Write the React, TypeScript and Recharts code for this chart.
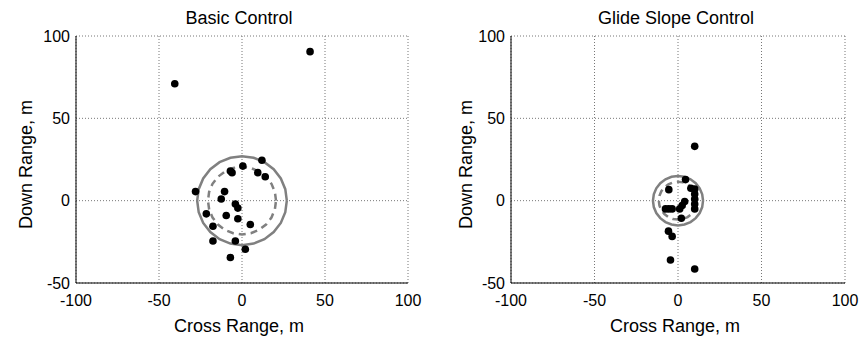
import { ScatterChart, Scatter, XAxis, YAxis, CartesianGrid, Label } from "recharts";

// impact points, metres
const basicCross = [-40.5, 41, 12, 0.5, -7, -6, 9.5, 14, -28, -10.5, -12.5, -4, -2.5, -21.5, -9.5, -2.5, 5, -17.5, -17.5, -4, 2, -7];
const basicDown = [71, 90.5, 24.5, 21, 18, 17, 17, 14.5, 5.5, 5.5, 1, -2, -4.5, -8, -9, -11, -14.5, -15.5, -24.5, -24.5, -29.5, -34.5];

const glideCross = [10, 4.5, -5.5, 7.7, 10, 10, 10, 10, 10, 4, 2.5, 1, -3.5, -5.5, -7.5, 2, -5.7, -3.5, -4.5, 10];
const glideDown = [33, 12.8, 6.7, 7.5, 7, 4, 1, -2, -5, -0.5, -3, -5, -5, -5, -5, -10.7, -18.5, -21.7, -36, -41.5];

// circle radii [solid, dashed]
const basicRadii = [27, 20.5];
const glideRadii = [15, 11.5];

const xTicks = [-100, -50, 0, 50, 100];
const yTicks = [-50, 0, 50, 100];

const FONT = "'Liberation Sans', Arial, sans-serif";
const GREY = "#808080";

const toPoints = (xs: number[], ys: number[]) => xs.map((x, i) => ({ x, y: ys[i] }));

// polygon outline of a circle centred on the origin
const ring = (r: number, n = 24) =>
  Array.from({ length: n + 1 }, (_, i) => {
    const a = (2 * Math.PI * i) / n;
    return { x: r * Math.cos(a), y: r * Math.sin(a) };
  });

const Dot = (p: any) => <circle cx={p.cx} cy={p.cy} r={3.8} fill="#000" />;
const NoShape = () => <g />;

interface PanelProps {
  points: { x: number; y: number }[];
  radii: number[];
  width: number;
  yAxisWidth: number;
  right: number;
  yLabelX: number;
}

function Panel({ points, radii, width, yAxisWidth, right, yLabelX }: PanelProps) {
  return (
    <ScatterChart
      width={width}
      height={339}
      margin={{ top: 36, right, bottom: 0, left: 0 }}
      style={{ fontFamily: FONT }}
    >
      <CartesianGrid stroke="#777" strokeDasharray="1 2" />
      <XAxis
        type="number"
        dataKey="x"
        domain={[-100, 100]}
        ticks={xTicks}
        allowDataOverflow
        height={56}
        tickSize={0}
        tickLine={false}
        tickMargin={12}
        axisLine={{ stroke: "#000" }}
        tick={{ fontSize: 16, fill: "#000" }}
      >
        <Label
          content={({ viewBox }: any) => (
            <text
              x={viewBox.x + viewBox.width / 2 - 3}
              y={viewBox.y + 49}
              textAnchor="middle"
              fontSize={18}
              fontFamily={FONT}
              fill="#000"
            >
              Cross Range, m
            </text>
          )}
        />
      </XAxis>
      <YAxis
        type="number"
        dataKey="y"
        domain={[-50, 100]}
        ticks={yTicks}
        allowDataOverflow
        width={yAxisWidth}
        tickSize={0}
        tickLine={false}
        tickMargin={6}
        axisLine={{ stroke: "#000" }}
        tick={{ fontSize: 16, fill: "#000" }}
      >
        <Label
          content={({ viewBox }: any) => {
            const cy = viewBox.y + viewBox.height / 2 + 5;
            return (
              <text
                x={yLabelX}
                y={cy}
                transform={`rotate(-90 ${yLabelX} ${cy})`}
                textAnchor="middle"
                fontSize={18}
                fontFamily={FONT}
                fill="#000"
              >
                Down Range, m
              </text>
            );
          }}
        />
      </YAxis>
      <Scatter
        data={ring(radii[0])}
        fill={GREY}
        line={{ stroke: GREY, strokeWidth: 2.5 }}
        lineType="joint"
        shape={NoShape}
        isAnimationActive={false}
      />
      <Scatter
        data={ring(radii[1])}
        fill={GREY}
        line={{ stroke: GREY, strokeWidth: 2.5, strokeDasharray: "7 5" }}
        lineType="joint"
        shape={NoShape}
        isAnimationActive={false}
      />
      <Scatter data={points} fill="#000" shape={Dot} isAnimationActive={false} />
    </ScatterChart>
  );
}

export default function App() {
  return (
    <div style={{ position: "absolute", left: 0, top: 0, width: 859, height: 339, background: "#fff" }}>
      <div style={{ position: "absolute", left: 0, top: 0 }}>
        <Panel
          points={toPoints(basicCross, basicDown)}
          radii={basicRadii}
          width={430}
          yAxisWidth={76}
          right={22}
          yLabelX={32}
        />
      </div>
      <div style={{ position: "absolute", left: 430, top: 0 }}>
        <Panel
          points={toPoints(glideCross, glideDown)}
          radii={glideRadii}
          width={429}
          yAxisWidth={81}
          right={14}
          yLabelX={42}
        />
      </div>
      <svg
        width={859}
        height={40}
        style={{ position: "absolute", left: 0, top: 0, pointerEvents: "none" }}
      >
        <text x={239} y={24} textAnchor="middle" fontSize={18} fontFamily={FONT} fill="#000">
          Basic Control
        </text>
        <text x={676} y={24} textAnchor="middle" fontSize={18} fontFamily={FONT} fill="#000">
          Glide Slope Control
        </text>
      </svg>
    </div>
  );
}
